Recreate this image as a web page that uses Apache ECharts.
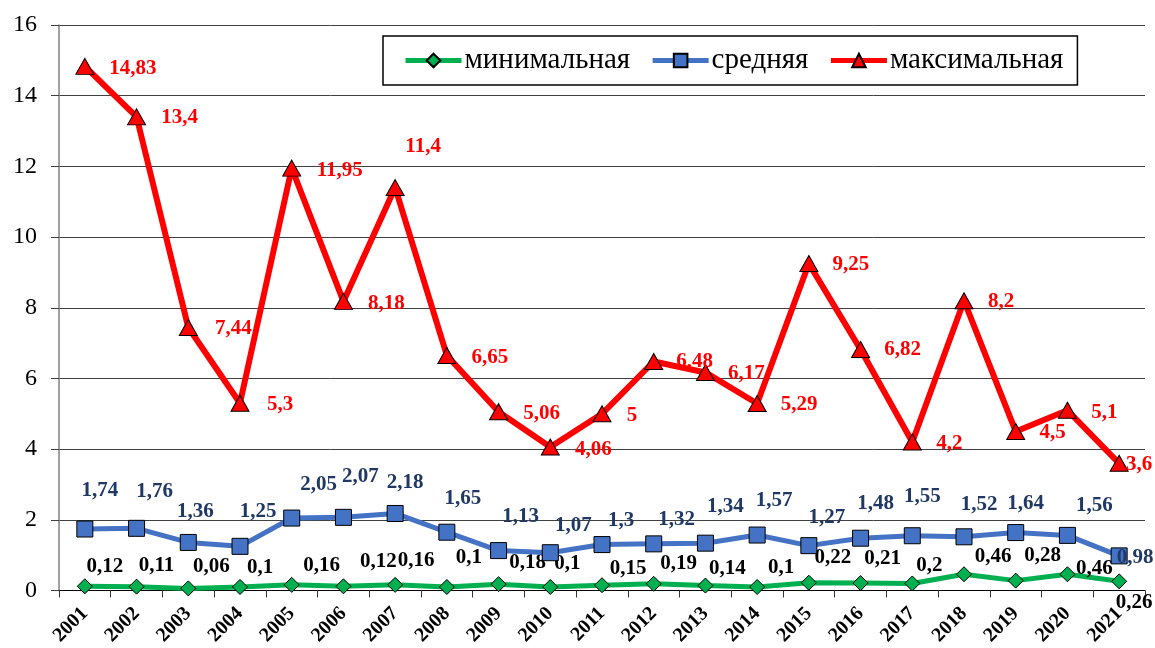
<!DOCTYPE html>
<html>
<head>
<meta charset="utf-8">
<script src="https://cdn.jsdelivr.net/npm/echarts@6/dist/echarts.min.js"></script>
<style>
html,body{margin:0;padding:0;background:#fff;}
#chart{width:1155px;height:648px;}
</style>
</head>
<body>
<div id="chart"></div>
<script>
var years = ['2001','2002','2003','2004','2005','2006','2007','2008','2009','2010','2011','2012','2013','2014','2015','2016','2017','2018','2019','2020','2021'];
var minValues = [0.12,0.11,0.06,0.1,0.16,0.12,0.16,0.1,0.18,0.1,0.15,0.19,0.14,0.1,0.22,0.21,0.2,0.46,0.28,0.46,0.26];
var avgValues = [1.74,1.76,1.36,1.25,2.05,2.07,2.18,1.65,1.13,1.07,1.3,1.32,1.34,1.57,1.27,1.48,1.55,1.52,1.64,1.56,0.98];
var maxValues = [14.83,13.4,7.44,5.3,11.95,8.18,11.4,6.65,5.06,4.06,5,6.48,6.17,5.29,9.25,6.82,4.2,8.2,4.5,5.1,3.6];
var seriesNames = ['минимальная','средняя','максимальная'];
var yTicks = {min:0, max:16, interval:2};

// label placement (offset of label centre from its point, px)
var minLabelShift = [[20,-20],[20,-21],[23,-22],[20,-19],[30,-19],[35,-25],[21,-24],[22,-29],[29,-22],[17,-23],[26,-17],[25,-20],[22,-17],[24,-19],[24,-25],[22,-25],[17,-18],[29,-18],[27,-25],[27,-6],[15,21]];
var avgLabelShift = [[15,-38],[18,-37],[7,-31],[18,-35],[27,-33],[17,-41],[10,-31],[16,-34],[22,-34],[23,-27],[19,-24],[23,-24],[20,-37],[17,-34],[18,-28],[15,-35],[10,-39],[15,-32],[10,-29],[27,-30],[16,2]];
var maxLabelShift = [[48,2],[43,1],[45,1],[40,1],[48,2],[43,2],[28,-41],[43,2],[43,2],[43,3],[30,2],[41,0],[41,1],[42,1],[42,1],[42,0],[37,2],[37,1],[37,1],[37,2],[20,1]];

function fmt(v){ return String(v).replace('.', ','); }
function build(values, shifts){
  return values.map(function(v,i){
    return {value:v, label:{offset:shifts[i]}};
  });
}
var FONT = "'Liberation Serif','Times New Roman',serif";

var chart = echarts.init(document.getElementById('chart'), null, {renderer:'canvas'});
chart.setOption({
  animation:false,
  backgroundColor:'#ffffff',
  grid:{left:59, right:10, top:25, bottom:56, containLabel:false},
  legend:{
    left:383, top:36,
    data:seriesNames,
    itemWidth:56, itemHeight:17, itemGap:20,
    padding:[10,14,10,20],
    borderColor:'#000', borderWidth:1.5,
    lineStyle:{width:5},
    textStyle:{fontFamily:FONT, fontSize:29, color:'#000', padding:[0,0,0,-2]}
  },
  xAxis:{
    type:'category', data:years, boundaryGap:true,
    axisLine:{show:true, lineStyle:{color:'#000', width:1}},
    axisTick:{show:true, length:7, lineStyle:{color:'#333'}},
    axisLabel:{rotate:45, fontFamily:FONT, fontWeight:'bold', fontSize:20, color:'#000', margin:20},
    splitLine:{show:false}
  },
  yAxis:{
    type:'value', min:yTicks.min, max:yTicks.max, interval:yTicks.interval,
    axisLine:{show:true, lineStyle:{color:'#808080', width:1.5}},
    axisTick:{show:true, length:8, lineStyle:{color:'#404040'}},
    axisLabel:{fontFamily:FONT, fontSize:24, color:'#000', margin:22},
    splitLine:{show:true, lineStyle:{color:'#404040', width:1}}
  },
  series:[
    {
      name:seriesNames[0], type:'line', data:build(minValues, minLabelShift),
      symbol:'diamond', symbolSize:15,
      lineStyle:{color:'#00B050', width:5},
      itemStyle:{color:'#00B050', borderColor:'#000', borderWidth:1},
      label:{show:true, position:'inside', formatter:function(p){return fmt(p.value);},
        fontFamily:FONT, fontWeight:'bold', fontSize:21, color:'#000'},
      z:3
    },
    {
      name:seriesNames[1], type:'line', data:build(avgValues, avgLabelShift),
      symbol:'rect', symbolSize:16,
      lineStyle:{color:'#4472C4', width:5},
      itemStyle:{color:'#4472C4', borderColor:'#000', borderWidth:1},
      label:{show:true, position:'inside', formatter:function(p){return fmt(p.value);},
        fontFamily:FONT, fontWeight:'bold', fontSize:21, color:'#1F3864'},
      z:4
    },
    {
      name:seriesNames[2], type:'line', data:build(maxValues, maxLabelShift),
      symbol:'triangle', symbolSize:[18,16],
      lineStyle:{color:'#FF0000', width:6},
      itemStyle:{color:'#FF0000', borderColor:'#000', borderWidth:1},
      label:{show:true, position:'inside', formatter:function(p){return fmt(p.value);},
        fontFamily:FONT, fontWeight:'bold', fontSize:21, color:'#FF0000'},
      z:5
    }
  ]
});
</script>
</body>
</html>
